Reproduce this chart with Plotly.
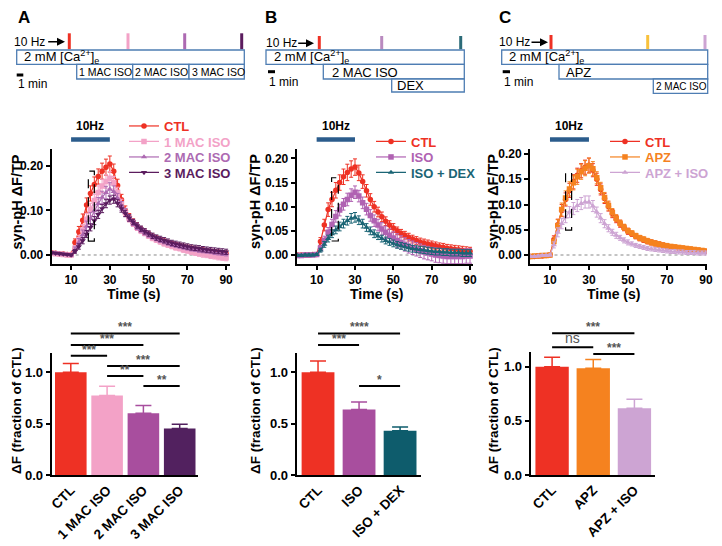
import plotly.graph_objects as go

W, H = 722, 546

# ---------------- data ----------------
time_s = [0, 2, 4, 6, 8, 10, 12, 14, 16, 18, 20, 22, 24, 26, 28, 30, 32, 34, 36, 38, 40, 42, 44, 46,
          48, 50, 52, 54, 56, 58, 60, 62, 64, 66, 68, 70, 72, 74, 76, 78, 80, 82, 84, 86, 88, 90]

# panel A traces
ctl_a = [0.005, 0.004, 0.003, 0.002, 0.001, 0.001,
         0.028, 0.052, 0.078, 0.112, 0.138, 0.158, 0.176, 0.188, 0.197, 0.204,
         0.188, 0.156, 0.124, 0.100, 0.084, 0.073, 0.064, 0.057, 0.051, 0.046,
         0.041, 0.037, 0.033, 0.030, 0.027, 0.024, 0.022, 0.020, 0.018, 0.016,
         0.014, 0.012, 0.011, 0.010, 0.008, 0.007, 0.006, 0.005, 0.004, 0.003]
iso1_a = [0.004, 0.003, 0.002, 0.001, 0.000, 0.000,
          0.015, 0.034, 0.056, 0.080, 0.102, 0.122, 0.140, 0.155, 0.165, 0.172,
          0.162, 0.140, 0.115, 0.096, 0.082, 0.071, 0.062, 0.055, 0.049, 0.043,
          0.038, 0.034, 0.030, 0.026, 0.023, 0.020, 0.017, 0.015, 0.012, 0.010,
          0.008, 0.006, 0.004, 0.002, 0.001, -0.001, -0.002, -0.004, -0.005, -0.006]
iso2_a = [0.005, 0.004, 0.003, 0.002, 0.001, 0.000,
          0.012, 0.028, 0.045, 0.064, 0.082, 0.099, 0.115, 0.129, 0.140, 0.148,
          0.142, 0.127, 0.110, 0.095, 0.083, 0.073, 0.064, 0.057, 0.051, 0.046,
          0.041, 0.037, 0.033, 0.030, 0.027, 0.024, 0.022, 0.020, 0.018, 0.016,
          0.014, 0.013, 0.011, 0.010, 0.009, 0.008, 0.006, 0.005, 0.004, 0.003]
iso3_a = [0.005, 0.004, 0.003, 0.002, 0.001, 0.000,
          0.008, 0.019, 0.032, 0.047, 0.062, 0.077, 0.091, 0.104, 0.115, 0.123,
          0.125, 0.116, 0.104, 0.093, 0.083, 0.074, 0.066, 0.059, 0.053, 0.048,
          0.043, 0.039, 0.036, 0.033, 0.030, 0.027, 0.025, 0.023, 0.021, 0.019,
          0.017, 0.016, 0.015, 0.013, 0.012, 0.011, 0.010, 0.009, 0.008, 0.007]
ctl_a_err = [0.002, 0.002, 0.002, 0.002, 0.002, 0.002,
             0.008, 0.012, 0.014, 0.016, 0.017, 0.017, 0.017, 0.018, 0.018, 0.018,
             0.016, 0.014, 0.012, 0.010, 0.009, 0.008, 0.008, 0.007, 0.007, 0.007,
             0.006, 0.006, 0.006, 0.006, 0.006, 0.006, 0.006, 0.006, 0.006, 0.006,
             0.006, 0.006, 0.006, 0.006, 0.006, 0.006, 0.006, 0.006, 0.006, 0.006]
iso1_a_err = [0.002, 0.002, 0.002, 0.002, 0.002, 0.002,
              0.006, 0.010, 0.012, 0.013, 0.014, 0.014, 0.015, 0.015, 0.015, 0.015,
              0.014, 0.012, 0.010, 0.009, 0.008, 0.007, 0.007, 0.007, 0.006, 0.006,
              0.006, 0.006, 0.006, 0.006, 0.006, 0.006, 0.006, 0.006, 0.006, 0.006,
              0.007, 0.007, 0.007, 0.007, 0.007, 0.007, 0.007, 0.007, 0.007, 0.007]
iso2_a_err = [0.002, 0.002, 0.002, 0.002, 0.002, 0.002,
              0.006, 0.009, 0.011, 0.012, 0.013, 0.013, 0.014, 0.014, 0.014, 0.014,
              0.013, 0.011, 0.010, 0.009, 0.008, 0.007, 0.007, 0.006, 0.006, 0.006,
              0.005, 0.005, 0.005, 0.005, 0.005, 0.005, 0.005, 0.005, 0.005, 0.005,
              0.005, 0.005, 0.005, 0.005, 0.005, 0.005, 0.005, 0.005, 0.005, 0.005]
iso3_a_err = [0.002, 0.002, 0.002, 0.002, 0.002, 0.002,
              0.004, 0.006, 0.007, 0.008, 0.008, 0.009, 0.009, 0.009, 0.009, 0.009,
              0.009, 0.008, 0.008, 0.007, 0.007, 0.006, 0.006, 0.006, 0.006, 0.006,
              0.006, 0.006, 0.006, 0.006, 0.006, 0.006, 0.006, 0.006, 0.006, 0.006,
              0.006, 0.006, 0.006, 0.006, 0.006, 0.006, 0.006, 0.006, 0.006, 0.006]

# panel B traces
ctl_b = [0.000, 0.000, 0.000, 0.000, 0.001, 0.001,
         0.028, 0.062, 0.094, 0.115, 0.134, 0.150, 0.162, 0.171, 0.178, 0.182,
         0.170, 0.152, 0.133, 0.115, 0.100, 0.089, 0.079, 0.070, 0.062, 0.056,
         0.050, 0.045, 0.041, 0.037, 0.033, 0.030, 0.027, 0.025, 0.023, 0.021,
         0.019, 0.017, 0.016, 0.014, 0.013, 0.012, 0.011, 0.010, 0.009, 0.008]
iso_b = [-0.001, -0.001, 0.000, 0.000, 0.000, 0.001,
         0.014, 0.030, 0.047, 0.063, 0.080, 0.093, 0.105, 0.115, 0.124, 0.130,
         0.122, 0.108, 0.095, 0.082, 0.071, 0.062, 0.054, 0.047, 0.041, 0.035,
         0.030, 0.026, 0.022, 0.018, 0.015, 0.012, 0.009, 0.006, 0.004, 0.002,
         0.000, -0.001, -0.002, -0.003, -0.003, -0.003, -0.003, -0.003, -0.002, -0.002]
dex_b = [-0.001, -0.001, 0.000, 0.000, 0.000, 0.001,
         0.010, 0.022, 0.034, 0.044, 0.052, 0.059, 0.065, 0.071, 0.076, 0.078,
         0.072, 0.065, 0.057, 0.050, 0.044, 0.039, 0.034, 0.030, 0.027, 0.024,
         0.021, 0.019, 0.017, 0.015, 0.013, 0.012, 0.011, 0.010, 0.009, 0.008,
         0.007, 0.007, 0.006, 0.006, 0.005, 0.005, 0.005, 0.004, 0.004, 0.004]
ctl_b_err = [0.002, 0.002, 0.002, 0.002, 0.002, 0.002,
             0.008, 0.012, 0.014, 0.015, 0.016, 0.016, 0.016, 0.017, 0.017, 0.017,
             0.016, 0.014, 0.013, 0.012, 0.011, 0.010, 0.010, 0.009, 0.009, 0.009,
             0.008, 0.008, 0.008, 0.008, 0.008, 0.008, 0.008, 0.008, 0.008, 0.008,
             0.008, 0.008, 0.008, 0.008, 0.008, 0.008, 0.008, 0.008, 0.008, 0.008]
iso_b_err = [0.002, 0.002, 0.002, 0.002, 0.002, 0.002,
             0.006, 0.009, 0.010, 0.011, 0.012, 0.012, 0.012, 0.013, 0.013, 0.013,
             0.012, 0.012, 0.012, 0.012, 0.012, 0.012, 0.013, 0.013, 0.013, 0.013,
             0.014, 0.014, 0.014, 0.014, 0.014, 0.014, 0.014, 0.014, 0.014, 0.014,
             0.015, 0.015, 0.015, 0.015, 0.015, 0.015, 0.015, 0.015, 0.015, 0.015]
dex_b_err = [0.002, 0.002, 0.002, 0.002, 0.002, 0.002,
             0.004, 0.006, 0.007, 0.008, 0.008, 0.009, 0.009, 0.009, 0.010, 0.010,
             0.009, 0.009, 0.008, 0.008, 0.008, 0.007, 0.007, 0.007, 0.007, 0.007,
             0.007, 0.007, 0.007, 0.007, 0.007, 0.007, 0.007, 0.007, 0.007, 0.007,
             0.007, 0.007, 0.007, 0.007, 0.007, 0.007, 0.007, 0.007, 0.007, 0.007]

# panel C traces
ctl_c = [-0.003, -0.003, -0.002, -0.002, -0.001, 0.000,
         0.030, 0.060, 0.088, 0.110, 0.128, 0.145, 0.158, 0.167, 0.174, 0.178,
         0.168, 0.150, 0.130, 0.112, 0.096, 0.082, 0.071, 0.062, 0.054, 0.047,
         0.042, 0.037, 0.033, 0.030, 0.027, 0.025, 0.023, 0.021, 0.019, 0.017,
         0.016, 0.015, 0.014, 0.013, 0.012, 0.011, 0.010, 0.009, 0.008, 0.007]
apz_c = [-0.003, -0.002, -0.002, -0.001, -0.001, 0.000,
         0.027, 0.058, 0.090, 0.113, 0.131, 0.143, 0.155, 0.165, 0.172, 0.177,
         0.171, 0.153, 0.133, 0.114, 0.098, 0.084, 0.073, 0.063, 0.055, 0.048,
         0.043, 0.038, 0.034, 0.031, 0.028, 0.025, 0.023, 0.021, 0.019, 0.018,
         0.017, 0.016, 0.015, 0.014, 0.013, 0.012, 0.011, 0.010, 0.009, 0.008]
apziso_c = [-0.003, -0.003, -0.002, -0.001, -0.001, 0.000,
            0.020, 0.045, 0.062, 0.075, 0.085, 0.092, 0.098, 0.102, 0.105, 0.105,
            0.097, 0.085, 0.073, 0.062, 0.053, 0.045, 0.039, 0.034, 0.029, 0.025,
            0.022, 0.019, 0.017, 0.015, 0.013, 0.012, 0.011, 0.010, 0.009, 0.008,
            0.007, 0.007, 0.006, 0.006, 0.005, 0.005, 0.005, 0.004, 0.004, 0.004]
ctl_c_err = [0.002, 0.002, 0.002, 0.002, 0.002, 0.002,
             0.008, 0.011, 0.012, 0.013, 0.014, 0.014, 0.014, 0.014, 0.014, 0.014,
             0.013, 0.012, 0.011, 0.010, 0.009, 0.008, 0.007, 0.007, 0.006, 0.006,
             0.005, 0.005, 0.005, 0.005, 0.005, 0.005, 0.005, 0.005, 0.005, 0.005,
             0.004, 0.004, 0.004, 0.004, 0.004, 0.004, 0.004, 0.004, 0.004, 0.004]
apz_c_err = [0.002, 0.002, 0.002, 0.002, 0.002, 0.002,
             0.008, 0.012, 0.013, 0.014, 0.014, 0.014, 0.015, 0.015, 0.015, 0.015,
             0.014, 0.012, 0.011, 0.010, 0.009, 0.008, 0.007, 0.006, 0.006, 0.005,
             0.005, 0.005, 0.005, 0.005, 0.005, 0.005, 0.005, 0.005, 0.005, 0.005,
             0.004, 0.004, 0.004, 0.004, 0.004, 0.004, 0.004, 0.004, 0.004, 0.004]
apziso_c_err = [0.002, 0.002, 0.002, 0.002, 0.002, 0.002,
                0.006, 0.009, 0.010, 0.011, 0.011, 0.012, 0.012, 0.012, 0.012, 0.012,
                0.011, 0.010, 0.009, 0.008, 0.007, 0.006, 0.006, 0.005, 0.005, 0.005,
                0.004, 0.004, 0.004, 0.004, 0.004, 0.004, 0.004, 0.004, 0.004, 0.004,
                0.004, 0.004, 0.004, 0.004, 0.004, 0.004, 0.004, 0.004, 0.004, 0.004]

# bar charts
bar_a_cats = ["CTL", "1 MAC ISO", "2 MAC ISO", "3 MAC ISO"]
bar_a_vals = [1.00, 0.774, 0.600, 0.453]
bar_a_err = [0.084, 0.090, 0.077, 0.042]
bar_b_cats = ["CTL", "ISO", "ISO + DEX"]
bar_b_vals = [1.00, 0.638, 0.430]
bar_b_err = [0.110, 0.072, 0.036]
bar_c_cats = ["CTL", "APZ", "APZ + ISO"]
bar_c_vals = [1.00, 0.985, 0.616]
bar_c_err = [0.087, 0.080, 0.084]

# significance brackets: (from, to, label, height in bar units)
sig_a = [(0, 3, "***", 1.378), (0, 2, "***", 1.265), (0, 1, "***", 1.16),
         (1, 3, "***", 1.06), (1, 2, "**", 0.963), (2, 3, "**", 0.866)]
sig_b = [(0, 2, "****", 1.378), (0, 1, "***", 1.265), (1, 2, "*", 0.866)]
sig_c = [(0, 2, "***", 1.308), (0, 1, "ns", 1.179), (1, 2, "***", 1.117)]

# ---------------- colours ----------------
RED = '#ee3124'
PINK = '#f3a2c7'
MAUVE = '#ad6ab2'
MAUVE_BAR = '#a84e9e'
DARK = '#5b1c5e'
DARK_BAR = '#52215f'
ISO = '#b062b2'
TEAL = '#1b6575'
TEAL_BAR = '#0e5c6c'
ORANGE = '#f5821f'
LAV = '#cda4d3'
YELLOW = '#f8c13c'
BOXBLUE = '#4e7db3'
HZBLUE = '#2b5c8c'
FONT = 'Liberation Sans, Arial, sans-serif'

# the page body has an 8px margin, so positions are taken relative to that
OFF = 8


def px(x):
    return (x - OFF) / W


def py(y):
    return 1 - (y - OFF) / H


fig = go.Figure()


def colored(name, color):
    return f"<span style='color:{color}'>{name}</span>"


# each legend row gets its own legend box so the rows can sit close together
line_series = [
    ('x', 'y', 124, [126, 141.5, 157, 172.5], [
        ('CTL', ctl_a, ctl_a_err, RED, 'circle'),
        ('1 MAC ISO', iso1_a, iso1_a_err, PINK, 'square'),
        ('2 MAC ISO', iso2_a, iso2_a_err, MAUVE, 'triangle-up'),
        ('3 MAC ISO', iso3_a, iso3_a_err, DARK, 'triangle-down')]),
    ('x2', 'y2', 371, [141.5, 157, 172.5], [
        ('CTL', ctl_b, ctl_b_err, RED, 'circle'),
        ('ISO', iso_b, iso_b_err, ISO, 'square'),
        ('ISO + DEX', dex_b, dex_b_err, TEAL, 'triangle-up')]),
    ('x3', 'y3', 605, [141.5, 157, 172.5], [
        ('CTL', ctl_c, ctl_c_err, RED, 'circle'),
        ('APZ', apz_c, apz_c_err, ORANGE, 'square'),
        ('APZ + ISO', apziso_c, apziso_c_err, LAV, 'triangle-up')]),
]

legends = {}
n_leg = 0
for xa, ya, lx, lys, series in line_series:
    for (name, vals, err, color, sym), ly in zip(series, lys):
        n_leg += 1
        key = 'legend' if n_leg == 1 else f'legend{n_leg}'
        legends[key] = dict(x=px(lx), y=py(ly), xanchor='left', yanchor='middle',
                            bgcolor='rgba(0,0,0,0)', borderwidth=0,
                            font=dict(size=13, family=FONT, weight='bold'))
        fig.add_trace(go.Scatter(
            x=time_s, y=vals, xaxis=xa, yaxis=ya, legend=key,
            name=colored(name, color), mode='lines+markers',
            line=dict(color=color, width=1.2),
            marker=dict(color=color, size=5.5, symbol=sym),
            error_y=dict(type='data', array=err, color=color, thickness=1, width=2),
        ))

bar_sets = [
    ('x4', 'y4', bar_a_cats, bar_a_vals, bar_a_err, [RED, PINK, MAUVE_BAR, DARK_BAR], 0.87),
    ('x5', 'y5', bar_b_cats, bar_b_vals, bar_b_err, [RED, MAUVE_BAR, TEAL_BAR], 0.8),
    ('x6', 'y6', bar_c_cats, bar_c_vals, bar_c_err, [RED, ORANGE, LAV], 0.81),
]
for xa, ya, cats, vals, err, cols, bw in bar_sets:
    fig.add_trace(go.Bar(
        x=cats, y=vals, xaxis=xa, yaxis=ya, showlegend=False, width=bw,
        marker=dict(color=cols, line=dict(width=0)),
    ))
    # coloured error bars (one per bar so each takes its bar colour)
    for i, c in enumerate(cats):
        fig.add_trace(go.Scatter(
            x=[c], y=[vals[i]], xaxis=xa, yaxis=ya, mode='markers', showlegend=False,
            marker=dict(size=1, color=cols[i], opacity=0),
            error_y=dict(type='data', symmetric=False, array=[err[i]], arrayminus=[0],
                         color=cols[i], thickness=1.5, width=8),
        ))

# ---------------- axes ----------------
axis_common = dict(showline=True, linecolor='black', linewidth=2, ticks='outside',
                   ticklen=4, tickwidth=2, tickcolor='black', showgrid=False,
                   zeroline=False, automargin=False,
                   tickfont=dict(size=12, color='black', family=FONT, weight='bold'))

line_y_dom = [py(264), py(149)]
line_panels = [
    ('xaxis', 'yaxis', 'y', 'x', [px(51.7), px(230)], [0, 92], [-0.0202, 0.2377], [0, 0.1, 0.2]),
    ('xaxis2', 'yaxis2', 'y2', 'x2', [px(296.7), px(473.3)], [-0.4, 91.7], [-0.0186, 0.2195],
     [0, 0.05, 0.1, 0.15, 0.2]),
    ('xaxis3', 'yaxis3', 'y3', 'x3', [px(530), px(706.7)], [-0.25, 90.4], [-0.0178, 0.21],
     [0, 0.05, 0.1, 0.15, 0.2]),
]
layout_axes = {}
for xk, yk, yid, xid, xdom, xr, yr, ytv in line_panels:
    layout_axes[xk] = dict(axis_common, domain=xdom, range=xr, anchor=yid,
                           tickvals=[10, 30, 50, 70, 90])
    layout_axes[yk] = dict(axis_common, domain=line_y_dom, range=yr, anchor=xid,
                           tickvals=ytv, tickformat='.2f')

bar_panels = [
    ('xaxis4', 'yaxis4', 'y4', 'x4', [px(51.7), px(198)], [-0.526, 3.504], [0, 1.19], py(352.7)),
    ('xaxis5', 'yaxis5', 'y5', 'x5', [px(296.7), px(421)], [-0.52, 2.51], [0, 1.19], py(352.7)),
    ('xaxis6', 'yaxis6', 'y6', 'x6', [px(530.7), px(655)], [-0.52, 2.5], [0, 1.138], py(351.7)),
]
for xk, yk, yid, xid, xdom, xr, yr, ytop in bar_panels:
    layout_axes[xk] = dict(axis_common, domain=xdom, range=xr, anchor=yid, ticks='',
                           tickangle=-45,
                           tickfont=dict(size=13.5, color='black', family=FONT, weight='bold'))
    layout_axes[yk] = dict(axis_common, domain=[py(475), ytop], range=yr, anchor=xid,
                           tickvals=[0, 0.5, 1.0], tickformat='.1f',
                           tickfont=dict(size=13, color='black', family=FONT, weight='bold'))

shapes = []
annotations = []


def title(text, x, y, size, angle=0):
    annotations.append(dict(text=text, xref='paper', yref='paper', x=px(x), y=py(y),
                            xanchor='center', yanchor='middle', showarrow=False,
                            textangle=angle, borderpad=0,
                            font=dict(size=size, weight='bold', color='black', family=FONT)))


# axis titles placed where the reference has them
for x in (16.5, 255, 493):
    title('syn-pH ΔF/TP', x, 202, 14.5, -90)
for x in (16, 255, 493):
    title('ΔF (fraction of CTL)', x, 411, 13.5, -90)
for x in (133.5, 376.7, 613.3):
    title('Time (s)', x, 293.5, 14)

# ---------------- line-plot decorations ----------------
dash_boxes = [('x', 'y', 18.9, 22.0, 0.031, 0.188),
              ('x2', 'y2', 17.8, 21.3, 0.029, 0.160),
              ('x3', 'y3', 18.0, 21.1, 0.0495, 0.165)]
for xa, ya, x0, x1, y0, y1 in dash_boxes:
    shapes.append(dict(type='rect', xref=xa, yref=ya, x0=x0, x1=x1, y0=y0, y1=y1,
                       line=dict(color='black', width=1.2, dash='dash')))
    shapes.append(dict(type='line', xref=xa, yref=ya, x0=0, x1=90, y0=0, y1=0,
                       line=dict(color='#888888', width=1, dash='dot'), layer='below'))
    shapes.append(dict(type='line', xref=xa, yref='paper', x0=10, x1=30,
                       y0=py(139.5), y1=py(139.5), line=dict(color=HZBLUE, width=4.5)))
    annotations.append(dict(text='10Hz', xref=xa, yref='paper', x=20, y=py(126),
                            yanchor='middle', showarrow=False,
                            font=dict(size=12, weight='bold', color='black')))

# ---------------- significance brackets ----------------
for xa, ya, sigs, ymax in [('x4', 'y4', sig_a, 1.19), ('x5', 'y5', sig_b, 1.19),
                           ('x6', 'y6', sig_c, 1.138)]:
    for i, j, lab, h in sigs:
        yd = h / ymax
        shapes.append(dict(type='line', xref=xa, yref=ya + ' domain', x0=i, x1=j, y0=yd, y1=yd,
                           line=dict(color='black', width=2)))
        is_ns = lab == 'ns'
        annotations.append(dict(text=lab, xref=xa, yref=ya + ' domain', x=(i + j) / 2, y=yd,
                                yanchor='bottom', showarrow=False, yshift=-2 if not is_ns else 0,
                                borderpad=0,
                                font=dict(size=14 if is_ns else 12, color='#555555',
                                          weight='normal' if is_ns else 'bold')))


# ---------------- protocol diagrams ----------------
def box(x0, x1, y0, y1):
    shapes.append(dict(type='rect', xref='paper', yref='paper', x0=px(x0), x1=px(x1),
                       y0=py(y1), y1=py(y0), line=dict(color=BOXBLUE, width=1.3),
                       fillcolor='white'))


def label(text, x, y, size=12):
    annotations.append(dict(text=text, xref='paper', yref='paper', x=px(x), y=py(y),
                            xanchor='left', yanchor='middle', showarrow=False,
                            font=dict(size=size, weight='normal', color='black')))


def stim(x, y0, y1, color):
    shapes.append(dict(type='line', xref='paper', yref='paper', x0=px(x), x1=px(x),
                       y0=py(y1), y1=py(y0), line=dict(color=color, width=3)))


def hz(xt, xa0, xa1, y):
    label('10 Hz', xt, y, 12)
    annotations.append(dict(text='', xref='paper', yref='paper', x=px(xa1), y=py(y),
                            ax=-(xa1 - xa0), ay=0, showarrow=True, arrowhead=2,
                            arrowsize=1, arrowwidth=1.6, arrowcolor='black'))


def scalebar(x0, x1, y, ytxt):
    shapes.append(dict(type='line', xref='paper', yref='paper', x0=px(x0), x1=px(x1),
                       y0=py(y), y1=py(y), line=dict(color='black', width=3)))
    label('1 min', x0 - 1, ytxt, 12)


CA = '2 mM [Ca<sup>2+</sup>]<sub>e</sub>'
# A
hz(12, 46.7, 65, 41.7)
for xs, c in [(69.3, RED), (128, PINK), (184.7, MAUVE), (241.7, DARK)]:
    stim(xs, 33.3, 49.3, c)
box(16.7, 244.3, 50, 64.3)
label(CA, 22, 57, 13)
box(76.7, 132.7, 64.3, 79)
box(132.7, 189, 64.3, 79)
box(189, 244.3, 64.3, 79)
label('1 MAC ISO', 77, 72, 10.5)
label('2 MAC ISO', 133, 72, 10.5)
label('3 MAC ISO', 189.5, 72, 10.5)
scalebar(16.7, 23.3, 75, 84)
# B
hz(264, 296.7, 314, 43.3)
for xs, c in [(319.3, RED), (381.7, '#b98abf'), (460.7, '#2b6b78')]:
    stim(xs, 36, 49.3, c)
box(266, 464.3, 50, 64.3)
label(CA, 272, 57, 13)
box(323.3, 464.3, 64.3, 79)
label('2 MAC ISO', 330, 72, 13)
box(391.7, 464.3, 79, 92)
label('DEX', 395, 86, 13)
scalebar(268, 275, 71.7, 81.7)
# C
hz(497, 530, 548, 42.3)
for xs, c in [(551, RED), (647.7, YELLOW), (705, LAV)]:
    stim(xs, 35, 49, c)
box(501.7, 707.7, 50, 64.3)
label(CA, 507, 57, 13)
box(559, 707.7, 64.3, 79)
label('APZ', 564, 72, 13)
box(653.3, 707.7, 79, 93.3)
label('2 MAC ISO', 654, 86.5, 10)
scalebar(502.7, 510, 71.7, 81.7)

# panel letters
for letter, x in [('A', 16), ('B', 263), ('C', 497)]:
    annotations.append(dict(text=letter, xref='paper', yref='paper', x=px(x), y=py(17),
                            xanchor='left', yanchor='middle', showarrow=False,
                            font=dict(size=17, weight='bold', color='black')))

fig.update_layout(
    width=W, height=H,
    margin=dict(l=0, r=0, t=0, b=0),
    paper_bgcolor='white', plot_bgcolor='white',
    font=dict(family=FONT, color='black', weight='bold'),
    showlegend=True,
    shapes=shapes,
    annotations=annotations,
    barmode='overlay',
    **legends,
    **layout_axes,
)

fig.write_html("out.html")
